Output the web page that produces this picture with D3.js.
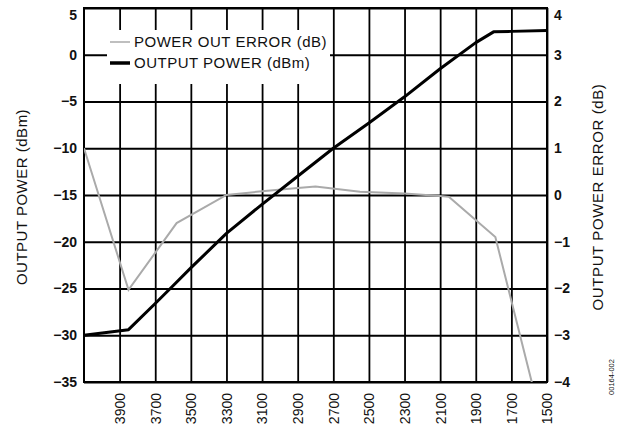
<!DOCTYPE html>
<html lang="en"><head><meta charset="utf-8">
<title>Output power vs frequency</title>
<script src="https://cdn.jsdelivr.net/npm/d3@7"></script>
<style>
  body { margin: 0; background: #fff; }
  text { font-family: Arial, "Liberation Sans", sans-serif; fill: #111; }
</style>
</head>
<body>
<script>
// frequency axis runs high -> low, left to right
var xTicks = [3900, 3700, 3500, 3300, 3100, 2900, 2700, 2500, 2300, 2100, 1900, 1700, 1500];
var leftTicks = [5, 0, -5, -10, -15, -20, -25, -30, -35];
var rightTicks = [4, 3, 2, 1, 0, -1, -2, -3, -4];

// OUTPUT POWER (dBm), left axis
var powerFreq = [4100, 3850, 3700, 3600, 3500, 3300, 3100, 2900, 2700, 2500, 2300, 2100, 1900, 1800, 1700, 1500];
var powerVal  = [-30, -29.4, -26.6, -24.7, -22.8, -19.1, -16.0, -13.0, -10.0, -7.3, -4.5, -1.5, 1.3, 2.45, 2.5, 2.6];

// POWER OUT ERROR (dB), right axis
var errFreq = [4100, 3850, 3580, 3300, 3100, 2900, 2800, 2550, 2300, 2100, 2050, 1790, 1500];
var errVal  = [1.0, -2.03, -0.6, 0.0, 0.08, 0.15, 0.18, 0.07, 0.03, -0.02, -0.04, -0.9, -5.3];

var W = 626, H = 427;
// note: "top" is taken by window.top, so use pl/pr/pt/pb
var pl = 84, pr = 547, pt = 8, pb = 382;

var svg = d3.select("body").append("svg")
    .attr("width", W)
    .attr("height", H);

var x = d3.scaleLinear().domain([4100, 1500]).range([pl, pr]);
var yL = d3.scaleLinear().domain([-35, 5]).range([pb, pt]);
var yR = d3.scaleLinear().domain([-4, 4]).range([pb, pt]);

// grid + tick labels
var gx = svg.append("g")
    .attr("transform", "translate(0," + pb + ")")
    .call(d3.axisBottom(x).tickValues(xTicks).tickSizeInner(-(pb - pt)).tickSizeOuter(0).tickFormat(d3.format("d")));
gx.select(".domain").remove();
gx.selectAll("line").attr("stroke", "#000").attr("stroke-width", 1.8);
gx.selectAll("text")
    .attr("transform", "rotate(-90)")
    .attr("text-anchor", "end")
    .attr("x", -11)
    .attr("y", 0)
    .attr("dy", "0.35em")
    .attr("font-size", 14);

var gl = svg.append("g")
    .attr("transform", "translate(" + pl + ",0)")
    .call(d3.axisLeft(yL).tickValues(leftTicks).tickSizeInner(-(pr - pl)).tickSizeOuter(0).tickPadding(7));
gl.select(".domain").remove();
gl.selectAll("line").attr("stroke", "#000").attr("stroke-width", 1.8);
gl.selectAll("text").attr("font-size", 14).attr("font-weight", "bold");

var gr = svg.append("g")
    .attr("transform", "translate(" + pr + ",0)")
    .call(d3.axisRight(yR).tickValues(rightTicks).tickSize(0).tickPadding(7));
gr.select(".domain").remove();
gr.selectAll("text").attr("font-size", 14).attr("font-weight", "bold");

// top labels sit a bit below the border
gl.selectAll(".tick").filter(function(d){ return d === 5; }).select("text").attr("dy", "0.8em");
gr.selectAll(".tick").filter(function(d){ return d === 4; }).select("text").attr("dy", "0.8em");

svg.selectAll(".tick text").style("font-family", "Arial, 'Liberation Sans', sans-serif");

// frame
svg.append("rect")
    .attr("x", pl).attr("y", pt)
    .attr("width", pr - pl).attr("height", pb - pt)
    .attr("fill", "none").attr("stroke", "#000").attr("stroke-width", 2);

// legend (white box over the grid)
var lg = svg.append("g");
lg.append("rect")
    .attr("x", 107).attr("y", 30).attr("width", 223).attr("height", 54)
    .attr("fill", "#fff");
var legendItems = [
  { name: "POWER OUT ERROR (dB)", color: "#aaa", width: 1.5, y: 42 },
  { name: "OUTPUT POWER (dBm)", color: "#000", width: 3.5, y: 63 }
];
legendItems.forEach(function(d){
  lg.append("line")
    .attr("x1", 110).attr("x2", 130)
    .attr("y1", d.y).attr("y2", d.y)
    .attr("stroke", d.color).attr("stroke-width", d.width);
  lg.append("text")
    .attr("x", 134).attr("y", d.y)
    .attr("dy", "0.36em")
    .attr("font-size", 15)
    .attr("letter-spacing", 0.5)
    .text(d.name);
});

// data lines
svg.append("clipPath").attr("id", "plot")
  .append("rect")
    .attr("x", pl).attr("y", pt)
    .attr("width", pr - pl).attr("height", pb - pt);

var errLine = d3.line()
    .x(function(d, i){ return x(errFreq[i]); })
    .y(function(d){ return yR(d); });
svg.append("path")
    .datum(errVal)
    .attr("clip-path", "url(#plot)")
    .attr("fill", "none")
    .attr("stroke", "#aaa")
    .attr("stroke-width", 2)
    .attr("d", errLine);

var powerLine = d3.line()
    .x(function(d, i){ return x(powerFreq[i]); })
    .y(function(d){ return yL(d); });
svg.append("path")
    .datum(powerVal)
    .attr("fill", "none")
    .attr("stroke", "#000")
    .attr("stroke-width", 3)
    .attr("stroke-linejoin", "round")
    .attr("d", powerLine);

// axis titles
svg.append("text")
    .attr("transform", "translate(22,197) rotate(-90)")
    .attr("text-anchor", "middle")
    .attr("dy", "0.35em")
    .attr("font-size", 15)
    .attr("letter-spacing", 0.5)
    .text("OUTPUT POWER (dBm)");

svg.append("text")
    .attr("transform", "translate(598,197) rotate(-90)")
    .attr("text-anchor", "middle")
    .attr("dy", "0.35em")
    .attr("font-size", 15)
    .attr("letter-spacing", 0.6)
    .text("OUTPUT POWER ERROR (dB)");

svg.append("text")
    .attr("transform", "translate(611,377) rotate(-90)")
    .attr("text-anchor", "middle")
    .attr("dy", "0.35em")
    .attr("font-size", 7.5)
    .text("00164-002");
</script>
</body></html>
